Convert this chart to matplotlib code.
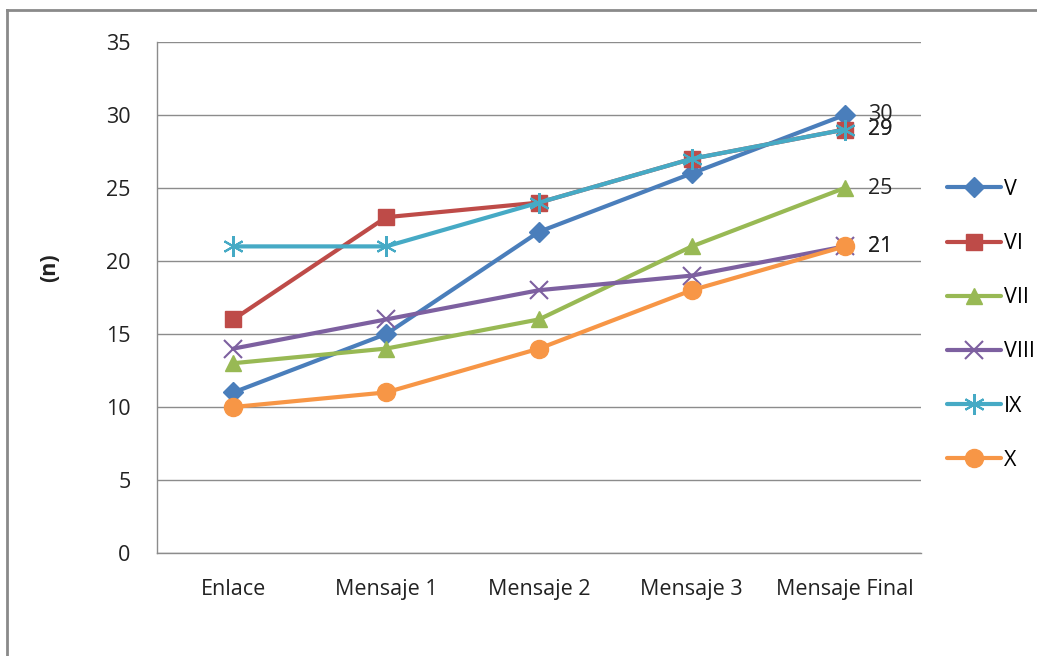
import matplotlib
matplotlib.use("Agg")
import matplotlib.pyplot as plt
from matplotlib.lines import Line2D

plt.rcParams['font.family'] = ['Open Sans', 'DejaVu Sans']

categories = ["Enlace", "Mensaje 1", "Mensaje 2", "Mensaje 3", "Mensaje Final"]
series_names = ["V", "VI", "VII", "VIII", "IX", "X"]
v_vals = [11, 15, 22, 26, 30]
vi_vals = [16, 23, 24, 27, 29]
vii_vals = [13, 14, 16, 21, 25]
viii_vals = [14, 16, 18, 19, 21]
ix_vals = [21, 21, 24, 27, 29]
x_vals = [10, 11, 14, 18, 21]
y_ticks = [0, 5, 10, 15, 20, 25, 30, 35]

all_vals = [v_vals, vi_vals, vii_vals, viii_vals, ix_vals, x_vals]
colors = ["#4A7EBB", "#BE4B48", "#98B954", "#7D60A0", "#46AAC5", "#F79646"]
markers = ["D", "s", "^", "x", (6, 2, 0), "o"]
msizes = [10, 12, 12, 13, 15, 13]

FS = 15.5
TXT = '#222222'

fig = plt.figure(figsize=(10.37, 6.56), dpi=100)
ax = fig.add_axes([157 / 1037, 1 - 553 / 656, (921 - 157) / 1037, (553 - 42) / 656])

xs = [i + 0.5 for i in range(len(categories))]
for name, vals, c, m, ms in zip(series_names, all_vals, colors, markers, msizes):
    mew = 1.5 if m in ("x", (6, 2, 0)) else 1
    ax.plot(xs, vals, color=c, lw=3, marker=m, markersize=ms,
            markerfacecolor=c, markeredgecolor=c, markeredgewidth=mew,
            label=name, solid_capstyle='round', zorder=3)
    ax.annotate(str(vals[-1]), (xs[-1], vals[-1]), xytext=(17, 0),
                textcoords='offset points', va='center', ha='left',
                fontsize=FS, color=TXT, zorder=4)

ax.set_xlim(0, 5)
ax.set_ylim(0, 35)
ax.set_yticks(y_ticks)
ax.set_yticklabels([str(t) for t in y_ticks], fontsize=FS, color=TXT)
ax.set_xticks(xs)
ax.set_xticklabels(categories, fontsize=FS, color=TXT)
ax.tick_params(axis='y', length=0, pad=19)
ax.tick_params(axis='x', length=0, pad=19)
ax.yaxis.grid(True, color='#8c8c8c', lw=1)
ax.set_axisbelow(True)
for s in ['top', 'right']:
    ax.spines[s].set_visible(False)
for s in ['left', 'bottom']:
    ax.spines[s].set_color('#8c8c8c')
    ax.spines[s].set_linewidth(1)

fig.text(50 / 1037, 1 - 268 / 656, "(n)", rotation=90, fontsize=FS,
         fontweight='bold', ha='center', va='center', color=TXT)

leg = ax.legend(loc='upper left', bbox_to_anchor=(947 / 1037, 1 - 179 / 656),
                bbox_transform=fig.transFigure, frameon=False, fontsize=FS,
                handlelength=2.5, handletextpad=0.15, labelspacing=1.54,
                borderaxespad=0, borderpad=0)

# outer chart frame
fig.add_artist(Line2D([7 / 1037, 7 / 1037], [0, 1 - 10 / 656], color='#8a8a8a', lw=2,
                      transform=fig.transFigure))
fig.add_artist(Line2D([7 / 1037, 1], [1 - 10 / 656, 1 - 10 / 656], color='#8a8a8a', lw=2,
                      transform=fig.transFigure))

fig.savefig("out.png", dpi=100)
